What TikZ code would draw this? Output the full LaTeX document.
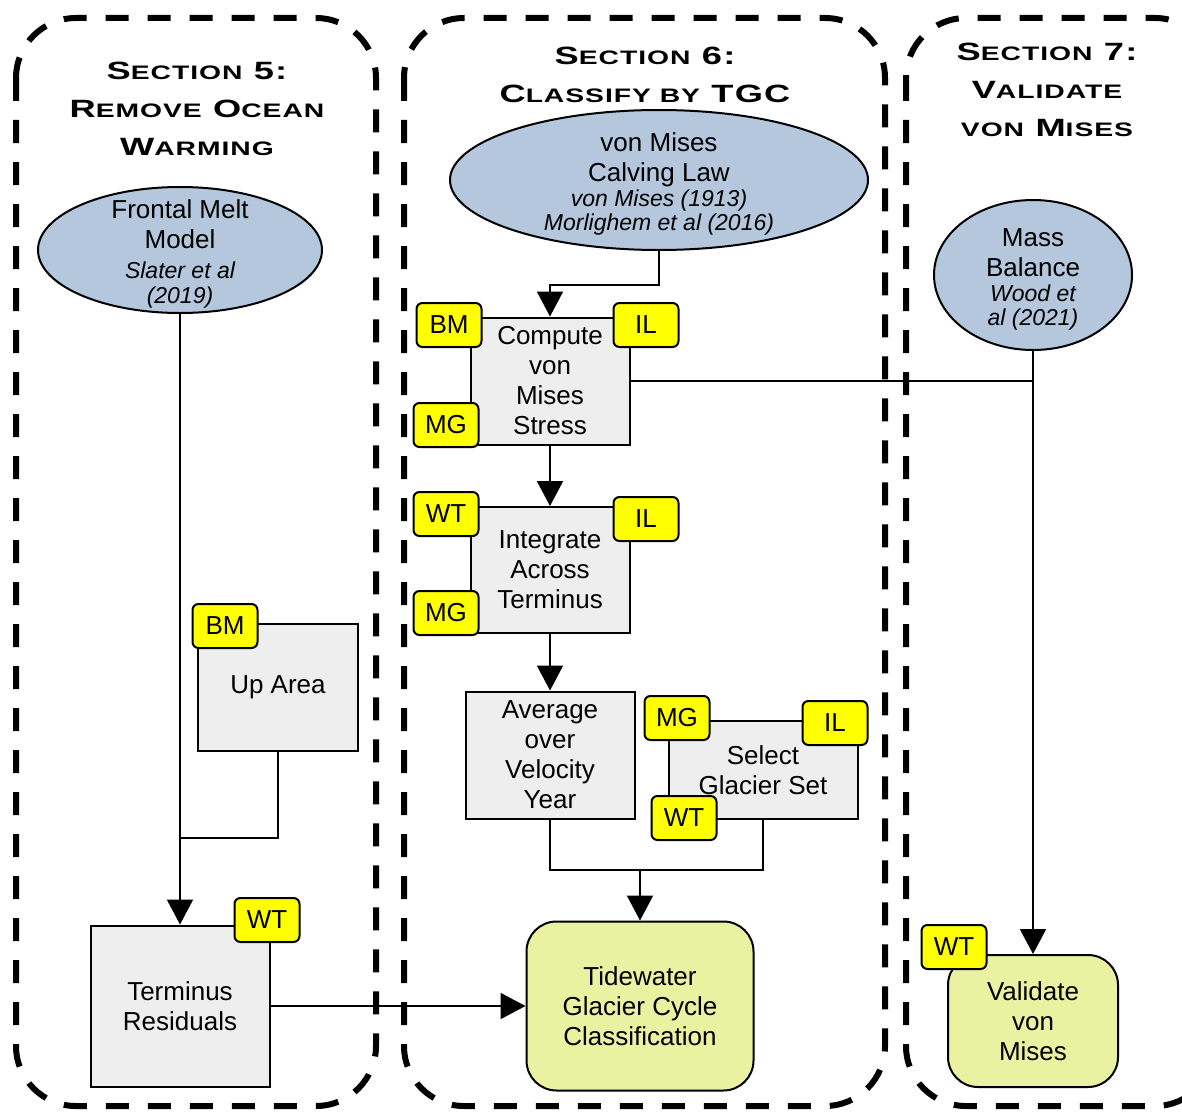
\documentclass[tikz,border=0pt]{standalone}
\usepackage{fontspec}
\setmainfont{Liberation Sans}
\newfontfamily\titlefont{Liberation Sans}[FakeStretch=1.45,LetterSpace=5]
\usetikzlibrary{arrows.meta,shapes.geometric}
\definecolor{srcblue}{HTML}{B4C7DC}
\definecolor{boxgray}{HTML}{EEEEEE}
\definecolor{resgreen}{HTML}{E8F2A1}
\definecolor{tagyellow}{HTML}{FFFF00}
\newcommand{\bodyfont}{\fontsize{26}{30}\selectfont}
\newcommand{\citefont}{\fontsize{23}{25}\selectfont\itshape}
\newcommand{\smc}[1]{{\fontsize{19.5}{38}\selectfont #1}}
\tikzset{
	section/.style={draw, line width=6pt, dash pattern=on 23pt off 19pt, rounded corners=60pt},
	heading/.style={align=center, font=\titlefont\bfseries\fontsize{25}{38}\selectfont},
	source/.style={ellipse, draw, line width=2pt, fill=srcblue, inner sep=0pt},
	srctext/.style={align=center, font=\bodyfont, inner sep=0pt, yshift=-4pt},
	stepbox/.style={rectangle, draw, line width=2pt, fill=boxgray, align=center, font=\bodyfont, inner sep=0pt},
	result/.style={stepbox, rounded corners=30pt, fill=resgreen},
	tag/.style={rectangle, draw, line width=2pt, rounded corners=6pt, fill=tagyellow, minimum width=65pt, minimum height=44pt, inner sep=0pt, font=\bodyfont},
	link/.style={line width=2pt},
	arrow/.style={link, -{Triangle[width=26pt,length=25pt]}}
}

\begin{document}
\begin{tikzpicture}[x=1pt, y=-1pt]
		%%%%% START %%%%%
		\useasboundingbox (0,0) rectangle (1182,1113);
		
		% sections
		\draw[section] (16,18) rectangle (376,1106);
		\draw[section] (404,18) rectangle (885,1106);
		\draw[section] (906,18) rectangle (1215,1106);
		
		\node[heading] (title5) at (197,109) {S\smc{ECTION} 5:\\R\smc{EMOVE} O\smc{CEAN}\\W\smc{ARMING}};
		\node[heading] (title6) at (645,75) {S\smc{ECTION} 6:\\C\smc{LASSIFY BY} TGC};
		\node[heading] (title7) at (1047,90) {S\smc{ECTION} 7:\\V\smc{ALIDATE}\\\smc{VON} M\smc{ISES}};
		
		% sources
		\node[source, minimum width=284pt, minimum height=126pt] (fm) at (180,250) {};
		\node[srctext] (fmtext) at (fm.center) {Frontal Melt\\Model\\{\citefont Slater et al}\\[-5pt]{\citefont (2019)}};
		
		\node[source, minimum width=418pt, minimum height=140pt] (vm) at (659,180) {};
		\node[srctext] (vmtext) at (vm.center) {von Mises\\Calving Law\\[-5pt]{\citefont von Mises (1913)}\\[-6pt]{\citefont Morlighem et al (2016)}};
		
		\node[source, minimum width=198pt, minimum height=150pt] (mb) at (1033,275) {};
		\node[srctext] (mbtext) at (mb.center) {Mass\\Balance\\[-5pt]{\citefont Wood et}\\[-6pt]{\citefont al (2021)}};
		
		% steps
		\node[stepbox, minimum width=160pt, minimum height=127pt] (ua) at (278,687) {Up Area};
		\node[stepbox, minimum width=179pt, minimum height=161pt] (tr) at (180,1006) {Terminus\\Residuals};
		
		\node[stepbox, minimum width=159pt, minimum height=127pt] (cv) at (550,381) {Compute\\von\\Mises\\Stress};
		\node[stepbox, minimum width=159pt, minimum height=126pt] (it) at (550,570) {Integrate\\Across\\Terminus};
		\node[stepbox, minimum width=169pt, minimum height=127pt] (av) at (550,755) {Average\\over\\Velocity\\Year};
		\node[stepbox, minimum width=189pt, minimum height=98pt] (sg) at (763,770) {Select\\Glacier Set};
		
		\node[result, minimum width=227pt, minimum height=169pt] (tw) at (640,1006) {Tidewater\\Glacier Cycle\\Classification};
		\node[result, minimum width=170pt, minimum height=132pt] (vv) at (1033,1021) {Validate\\von\\Mises};
		
		% connectors
		\coordinate (join5) at (180,838);
		\coordinate (join6) at (640,870);
		
		\draw[arrow] (fm.south) -- (tr.north);
		\draw[link] (ua.south) |- (join5);
		\draw[arrow] (tr.east) -- (tw.west);
		
		\draw[arrow] (vm.south) -- ++(0,34) -| (cv.north);
		\draw[arrow] (cv.south) -- (it.north);
		\draw[arrow] (it.south) -- (av.north);
		\draw[link] (av.south) |- (sg.south |- join6) -- (sg.south);
		\draw[arrow] (join6) -- (tw.north);
		
		\draw[link] (cv.east) -- (cv.east -| mb.south);
		\draw[arrow] (mb.south) -- (vv.north);
		
		% tags
		\node[tag] (uaBM) at (225,626) {BM};
		\node[tag] (trWT) at (267,920) {WT};
		
		\node[tag] (cvBM) at (449,325) {BM};
		\node[tag] (cvIL) at (646,325) {IL};
		\node[tag] (cvMG) at (446,425) {MG};
		
		\node[tag] (itWT) at (446,514) {WT};
		\node[tag] (itIL) at (646,519) {IL};
		\node[tag] (itMG) at (446,613) {MG};
		
		\node[tag] (sgMG) at (677,718) {MG};
		\node[tag] (sgIL) at (835,723) {IL};
		\node[tag] (sgWT) at (684,818) {WT};
		
		\node[tag] (vvWT) at (954,947) {WT};
		%%%%% END %%%%%
\end{tikzpicture}
\end{document}
